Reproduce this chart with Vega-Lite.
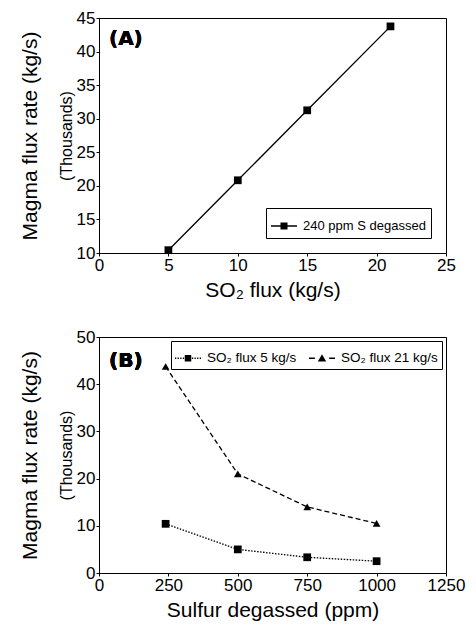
{
  "$schema": "https://vega.github.io/schema/vega-lite/v6.json",
  "padding": {"left": 18, "top": 8, "right": 5, "bottom": 5},
  "spacing": 26,
  "config": {
    "font": "Liberation Sans",
    "view": {"stroke": "black", "strokeWidth": 1},
    "axis": {
      "domainColor": "black", "tickColor": "black", "labelColor": "black", "titleColor": "black",
      "labelFont": "Liberation Sans", "titleFont": "Liberation Sans", "labelFontSize": 17,
      "titleFontSize": 21, "titleFontWeight": "normal", "grid": false, "tickSize": 3,
      "labelPadding": 1, "labelFlush": false, "labelOverlap": false
    },
    "legend": {
      "strokeColor": "black", "fillColor": "white", "labelFont": "Liberation Sans",
      "labelFontSize": 13, "labelColor": "black", "symbolSize": 676,
      "symbolStrokeWidth": 0, "symbolFillColor": "black", "symbolStrokeColor": "black"
    }
  },
  "resolve": {"scale": {"shape": "independent", "strokeDash": "independent"}},
  "vconcat": [
    {
      "width": 347, "height": 235,
      "data": {"values": [
        {"so2": 5, "magma": 10.42, "series": "240 ppm S degassed"},
        {"so2": 10, "magma": 20.83, "series": "240 ppm S degassed"},
        {"so2": 15, "magma": 31.25, "series": "240 ppm S degassed"},
        {"so2": 21, "magma": 43.75, "series": "240 ppm S degassed"}
      ]},
      "layer": [
        {
          "mark": {"type": "line", "color": "black", "strokeWidth": 1.3},
          "encoding": {
            "x": {"field": "so2", "type": "quantitative",
                  "scale": {"domain": [0, 25], "nice": false},
                  "axis": {"title": "SO₂ flux (kg/s)", "values": [0, 5, 10, 15, 20, 25], "titlePadding": 6}},
            "y": {"field": "magma", "type": "quantitative",
                  "scale": {"domain": [10, 45], "nice": false},
                  "axis": {"orient": "left", "title": "Magma flux rate (kg/s)", "labels": false,
                           "ticks": false, "domain": false, "titlePadding": 59}}
          }
        },
        {
          "mark": {"type": "point", "filled": true, "color": "black", "size": 60, "opacity": 1, "shape": "square"},
          "encoding": {
            "x": {"field": "so2", "type": "quantitative",
                  "scale": {"domain": [0, 25], "nice": false},
                  "axis": {"title": "SO₂ flux (kg/s)", "values": [0, 5, 10, 15, 20, 25], "titlePadding": 6}},
            "y": {"field": "magma", "type": "quantitative",
                  "scale": {"domain": [10, 45], "nice": false},
                  "axis": {"orient": "left", "title": "(Thousands)", "titleFontSize": 16,
                           "values": [10, 15, 20, 25, 30, 35, 40, 45], "titlePadding": 2}}
          }
        },
        {
          "transform": [{"filter": "false"}],
          "mark": {"type": "point", "filled": true, "color": "black", "opacity": 1},
          "encoding": {
            "shape": {"field": "series", "type": "nominal",
                      "scale": {"domain": ["240 ppm S degassed"],
                                "range": ["M-1,-0.05H1V0.05H-1ZM-0.27,-0.27H0.27V0.27H-0.27Z"]},
                      "legend": {"title": null, "orient": "bottom-right", "offset": 15, "padding": 5, "labelOffset": 6}}
          }
        },
        {
          "mark": {"type": "text", "text": "(A)", "font": "DejaVu Sans", "fontWeight": "bold",
                   "fontSize": 20, "align": "left", "baseline": "middle", "color": "black"},
          "encoding": {
            "x": {"datum": 0.72, "type": "quantitative",
                  "axis": {"title": "SO₂ flux (kg/s)", "values": [0, 5, 10, 15, 20, 25], "titlePadding": 6}},
            "y": {"datum": 41.8, "type": "quantitative", "axis": null}
          }
        }
      ],
      "resolve": {"axis": {"y": "independent"}}
    },
    {
      "width": 347, "height": 236,
      "data": {"values": [
        {"sulfur": 240, "magma": 10.42, "series": "SO₂ flux 5 kg/s"},
        {"sulfur": 500, "magma": 5.0, "series": "SO₂ flux 5 kg/s"},
        {"sulfur": 750, "magma": 3.33, "series": "SO₂ flux 5 kg/s"},
        {"sulfur": 1000, "magma": 2.5, "series": "SO₂ flux 5 kg/s"},
        {"sulfur": 240, "magma": 43.75, "series": "SO₂ flux 21 kg/s"},
        {"sulfur": 500, "magma": 21.0, "series": "SO₂ flux 21 kg/s"},
        {"sulfur": 750, "magma": 14.0, "series": "SO₂ flux 21 kg/s"},
        {"sulfur": 1000, "magma": 10.5, "series": "SO₂ flux 21 kg/s"}
      ]},
      "layer": [
        {
          "mark": {"type": "line", "color": "black", "strokeWidth": 1.3},
          "encoding": {
            "x": {"field": "sulfur", "type": "quantitative",
                  "scale": {"domain": [0, 1250], "nice": false},
                  "axis": {"title": "Sulfur degassed (ppm)", "values": [0, 250, 500, 750, 1000, 1250], "format": "d", "titlePadding": 6}},
            "y": {"field": "magma", "type": "quantitative",
                  "scale": {"domain": [0, 50], "nice": false},
                  "axis": {"orient": "left", "title": "Magma flux rate (kg/s)", "labels": false,
                           "ticks": false, "domain": false, "titlePadding": 59}},
            "strokeDash": {"field": "series", "type": "nominal",
                           "scale": {"domain": ["SO₂ flux 5 kg/s", "SO₂ flux 21 kg/s"], "range": [[1.5, 1.5], [5, 3]]},
                           "legend": null}
          }
        },
        {
          "mark": {"type": "point", "filled": true, "color": "black", "size": 60, "opacity": 1},
          "encoding": {
            "x": {"field": "sulfur", "type": "quantitative",
                  "scale": {"domain": [0, 1250], "nice": false},
                  "axis": {"title": "Sulfur degassed (ppm)", "values": [0, 250, 500, 750, 1000, 1250], "format": "d", "titlePadding": 6}},
            "y": {"field": "magma", "type": "quantitative",
                  "scale": {"domain": [0, 50], "nice": false},
                  "axis": {"orient": "left", "title": "(Thousands)", "titleFontSize": 16,
                           "values": [0, 10, 20, 30, 40, 50], "titlePadding": 2}},
            "shape": {"field": "series", "type": "nominal",
                      "scale": {"domain": ["SO₂ flux 5 kg/s", "SO₂ flux 21 kg/s"], "range": ["square", "triangle-up"]},
                      "legend": null}
          }
        },
        {
          "transform": [{"filter": "false"}],
          "mark": {"type": "point", "filled": true, "color": "black", "opacity": 1},
          "encoding": {
            "shape": {"field": "series", "type": "nominal",
                      "scale": {"domain": ["SO₂ flux 5 kg/s", "SO₂ flux 21 kg/s"],
                                "range": [
                                  "M-1,-0.05H-0.9V0.05H-1ZM-0.8,-0.05H-0.7V0.05H-0.8ZM-0.6,-0.05H-0.5V0.05H-0.6ZM-0.4,-0.05H-0.3V0.05H-0.4ZM-0.25,-0.25H0.25V0.25H-0.25ZM0.3,-0.05H0.4V0.05H0.3ZM0.5,-0.05H0.6V0.05H0.5ZM0.7,-0.05H0.8V0.05H0.7ZM0.9,-0.05H1V0.05H0.9Z",
                                  "M-1,-0.05H-0.55V0.05H-1ZM-0.32,0.25L0,-0.3L0.32,0.25ZM0.55,-0.05H1V0.05H0.55Z"
                                ]},
                      "legend": {"title": null, "orient": "top-right", "offset": 4, "padding": 4,
                                 "direction": "horizontal", "columnPadding": 12, "labelOffset": 6,
                                 "labelFontSize": 13.5}}
          }
        },
        {
          "mark": {"type": "text", "text": "(B)", "font": "DejaVu Sans", "fontWeight": "bold",
                   "fontSize": 20, "align": "left", "baseline": "middle", "color": "black"},
          "encoding": {
            "x": {"datum": 36, "type": "quantitative",
                  "axis": {"title": "Sulfur degassed (ppm)", "values": [0, 250, 500, 750, 1000, 1250], "format": "d", "titlePadding": 6}},
            "y": {"datum": 44.9, "type": "quantitative", "axis": null}
          }
        }
      ],
      "resolve": {"axis": {"y": "independent"}, "scale": {"shape": "independent"}}
    }
  ]
}
